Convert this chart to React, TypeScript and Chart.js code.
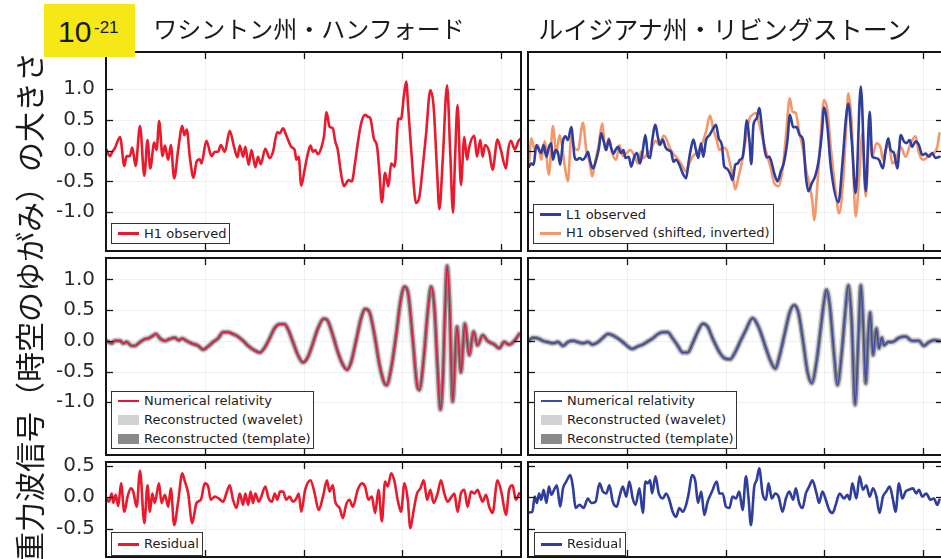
import React, { useEffect, useRef } from "react";
import { Chart, registerables } from "chart.js";
Chart.register(...registerables);

// ---- time axis (ms after reference) ----
const X_MIN = 250;
const X_MAX = 460;
const X_TICKS = [300, 350, 400, 450];
const Y_TICKS_BIG = [-1, -0.5, 0, 0.5, 1];
const Y_TICKS_RES = [-0.5, 0, 0.5];

// ---- Hanford: H1 observed ----
const H1_T = [250.3,252.0,253.2,254.5,257.1,259.3,260.4,262.1,263.3,265.0,267.2,269.4,271.0,272.4,274.4,275.6,276.9,278.6,279.8,281.5,282.8,284.5,286.5,288.6,289.6,290.9,292.4,294.3,295.8,297.5,298.3,300.8,303.4,305.1,306.7,308.1,310.1,312.6,314.8,316.5,317.7,319.4,320.5,322.2,323.6,325.6,326.9,328.3,330.6,332.8,334.5,336.7,337.9,339.6,341.2,343.8,345.5,346.3,347.5,348.8,350.5,352.2,353.5,354.7,355.9,357.2,358.9,360.3,361.6,363.1,364.8,366.0,367.3,369.0,370.4,371.5,372.7,374.4,376.1,377.4,379.1,381.1,382.5,383.8,385.5,387.2,388.4,389.6,391.2,392.9,394.3,396.0,398.0,399.3,400.7,401.9,403.0,404.7,406.9,408.6,410.3,412.0,414.1,415.8,417.5,418.7,420.4,422.6,424.2,425.6,426.6,427.9,429.6,431.3,432.7,433.8,436.4,437.7,439.4,440.6,441.8,443.9,445.6,448.1,449.8,452.4,453.5,454.9,456.9,458.6,460.0];
const H1_V = [0.01,-0.09,-0.02,0.04,0.22,-0.25,-0.09,-0.09,0.05,-0.25,0.40,-0.41,0.17,-0.29,0.13,0.01,0.48,-0.09,0.08,-0.15,0.09,-0.45,0.01,0.40,0.25,0.34,-0.10,-0.44,-0.18,-0.14,-0.21,0.16,-0.09,-0.02,-0.02,0.09,-0.02,0.32,0.06,-0.11,0.08,-0.10,0.06,-0.23,0.01,-0.27,-0.10,-0.22,0.03,-0.12,-0.02,0.30,0.28,0.36,0.25,0.06,0.01,-0.15,-0.10,-0.57,-0.31,-0.04,0.08,-0.02,0.01,-0.06,0.04,0.23,0.62,0.39,0.36,0.15,0.01,-0.39,-0.58,-0.53,-0.48,-0.50,-0.18,0.12,0.44,0.58,0.55,0.52,0.20,0.06,-0.37,-0.84,-0.36,-0.58,-0.21,-0.26,0.52,0.51,0.88,1.12,0.66,-0.10,-0.85,-0.75,-0.26,0.28,0.98,0.71,-0.31,-0.95,-0.15,1.06,-0.04,-1.01,-0.15,0.74,-0.56,0.22,-0.15,0.06,0.24,-0.10,0.17,-0.10,0.09,-0.02,-0.31,0.18,0.01,-0.29,0.01,0.16,0.02,0.15,0.20];

// ---- Livingston: L1 observed ----
const L1_T = [250.5,251.7,252.9,254.2,255.6,256.7,257.9,259.3,260.6,261.8,262.6,264.0,265.2,266.3,267.7,269.0,270.2,271.9,273.6,274.7,276.1,277.8,279.1,280.3,281.5,282.8,284.5,285.9,287.0,288.2,289.6,290.9,292.1,293.3,294.3,295.5,297.1,298.3,299.3,301.0,302.2,303.9,305.1,306.7,308.1,309.4,310.8,311.8,312.8,314.5,315.7,316.8,318.2,319.5,320.7,322.4,323.6,324.9,326.6,328.3,330.0,331.3,332.5,333.7,335.0,336.2,337.5,338.7,340.1,341.8,343.4,345.1,346.5,348.1,349.3,350.5,352.2,353.5,354.9,356.1,357.2,358.6,359.6,360.6,362.0,363.0,364.1,365.7,367.0,368.4,369.5,370.7,372.1,373.4,374.6,376.3,377.9,379.6,381.3,382.5,384.2,385.9,387.5,389.2,390.6,391.9,393.6,395.3,397.0,398.7,399.8,401.5,403.2,407.1,409.1,410.8,412.1,413.8,415.8,418.4,420.9,422.9,424.2,425.9,427.6,429.6,431.0,432.3,433.5,435.2,436.9,438.6,440.2,441.4,443.1,444.4,446.1,447.8,449.5,451.2,452.9,454.5,456.2,458.2];
const L1_V = [-0.26,-0.21,-0.23,0.09,0.01,-0.04,0.09,-0.10,0.06,0.12,-0.15,0.01,-0.04,-0.23,0.15,0.23,0.17,0.38,-0.11,-0.15,-0.12,-0.15,-0.10,-0.02,-0.18,-0.29,-0.15,0.04,0.28,0.16,0.01,0.18,0.04,-0.05,0.01,0.06,-0.04,0.01,-0.12,-0.10,-0.26,-0.09,-0.04,-0.21,0.01,0.25,-0.10,-0.12,0.15,0.42,0.22,0.09,0.18,0.06,0.01,-0.02,-0.18,-0.15,-0.23,-0.37,-0.45,-0.18,0.04,0.18,0.01,-0.12,0.12,-0.10,0.17,0.25,0.34,0.42,0.20,0.09,-0.26,-0.29,-0.37,-0.48,-0.23,-0.21,-0.15,-0.11,0.15,0.49,0.18,-0.22,0.42,0.52,0.69,0.36,0.06,-0.11,-0.10,-0.21,-0.37,-0.50,-0.34,-0.18,0.17,0.58,0.38,0.38,0.25,0.17,-0.42,-0.66,-0.53,-0.42,-0.18,0.28,0.70,0.39,-0.26,-0.84,-0.21,0.49,0.76,0.17,-0.69,1.04,-0.66,0.63,-0.10,-0.12,-0.15,-0.29,0.01,0.20,0.01,-0.04,-0.29,0.25,0.15,0.12,0.17,0.06,0.15,0.09,-0.07,-0.05,-0.10,-0.04,-0.12,-0.10];

// ---- H1 observed (shifted, inverted) ----
const H1S_T = [250.5,251.7,253.4,255.1,256.7,258.4,260.6,262.6,264.3,266.0,267.3,268.5,270.2,271.9,273.6,275.3,277.8,279.5,281.1,282.5,284.2,285.9,287.5,289.2,290.9,292.6,294.6,296.3,298.0,300.0,301.7,303.9,305.6,307.2,308.4,310.6,312.3,314.5,316.5,318.5,319.9,321.5,323.2,324.9,327.4,330.0,331.6,333.3,335.0,337.5,340.1,342.1,343.8,345.5,346.8,348.8,350.5,352.2,353.5,354.9,356.6,358.2,360.3,362.0,363.6,365.3,367.3,369.0,371.2,372.9,374.6,376.8,378.8,380.5,382.5,383.8,385.5,387.2,389.2,390.9,392.3,393.9,394.8,396.5,398.1,399.8,401.5,403.2,405.4,407.4,409.4,411.1,412.1,413.8,415.8,417.5,419.2,420.9,422.9,424.2,426.3,428.5,429.6,431.0,432.7,434.3,436.0,438.6,441.1,443.6,446.1,447.8,450.3,452.9,455.4,457.1,458.2];
const H1S_V = [-0.21,0.20,0.01,0.09,-0.15,0.15,-0.39,0.40,-0.04,0.25,0.06,-0.23,-0.50,0.23,0.04,0.01,0.45,0.01,-0.18,-0.42,-0.15,0.12,0.44,0.01,0.20,-0.04,-0.15,0.09,-0.09,-0.04,0.01,-0.09,-0.21,-0.02,-0.12,-0.04,0.01,0.16,0.09,0.24,0.20,0.06,-0.04,-0.10,-0.21,-0.34,-0.21,-0.10,-0.04,0.06,0.31,0.57,0.34,0.17,0.01,0.05,0.01,-0.21,-0.39,-0.63,-0.42,-0.19,0.20,0.51,0.58,0.61,0.39,0.17,-0.10,-0.29,-0.53,-0.58,-0.31,0.23,0.85,0.63,0.61,0.31,0.01,-0.34,-0.53,-0.83,-1.13,-0.53,0.23,0.82,0.66,0.06,-0.58,-1.02,-0.53,0.44,0.93,0.44,-1.07,-0.48,0.28,-0.75,0.34,-0.10,0.12,0.04,-0.15,0.01,0.12,-0.21,-0.15,0.06,-0.10,0.12,0.23,-0.04,-0.15,-0.07,-0.04,0.06,0.28];

// ---- Numerical relativity (Hanford) ----
const NRH_T = [250.3,252.9,254.5,257.1,258.8,260.4,263.0,264.6,267.2,269.7,271.4,273.1,275.3,277.3,279.8,282.3,284.8,286.9,288.6,290.7,293.3,296.6,299.2,301.7,304.2,306.7,309.3,311.8,314.3,316.8,319.4,321.9,324.9,327.8,330.3,332.8,335.4,337.9,340.4,342.1,344.6,347.1,349.7,352.2,354.7,357.2,360.3,362.3,364.8,367.3,369.9,372.1,374.1,376.6,379.1,381.1,383.3,385.9,388.4,390.9,392.1,394.3,396.8,399.0,401.0,403.0,405.2,407.4,408.6,410.8,412.8,414.5,416.2,417.8,419.2,420.4,421.5,422.6,423.9,425.4,427.6,429.6,431.6,433.8,436.0,438.0,440.6,443.1,446.5,449.0,451.5,454.0,456.9,459.1];
const NRH_V = [0.00,-0.04,0.00,0.00,-0.04,-0.02,-0.08,-0.08,-0.02,0.03,0.04,0.07,0.11,0.04,0.00,0.03,0.05,0.01,0.04,0.00,-0.04,-0.08,-0.14,-0.09,-0.02,0.04,0.14,0.14,0.11,0.07,0.00,-0.08,-0.15,-0.19,-0.11,0.04,0.21,0.27,0.27,0.19,-0.02,-0.23,-0.35,-0.26,-0.04,0.20,0.36,0.32,0.09,-0.18,-0.39,-0.47,-0.34,0.01,0.37,0.52,0.47,0.09,-0.39,-0.69,-0.72,-0.45,0.09,0.64,0.88,0.75,0.04,-0.72,-0.80,-0.28,0.47,0.88,0.53,-0.45,-1.12,-0.66,0.42,1.22,0.58,-0.99,0.23,-0.51,0.28,-0.23,0.15,-0.07,0.09,0.00,-0.06,-0.12,-0.02,-0.06,0.01,0.11];

// ---- Numerical relativity (Livingston) ----
const NRL_T = [250.5,252.5,255.1,257.6,260.1,262.6,265.2,267.7,270.2,272.7,275.3,277.8,280.3,282.8,285.4,287.9,290.4,292.9,295.5,298.0,300.5,302.7,305.6,308.1,310.6,313.1,315.7,318.2,320.7,323.2,325.8,328.3,330.8,333.3,335.9,338.4,340.9,343.4,346.8,349.3,352.2,354.9,357.7,360.3,363.6,367.0,370.4,372.9,375.1,377.4,380.1,382.5,384.7,386.9,389.2,391.4,393.6,396.0,398.1,399.8,401.0,402.7,404.9,406.6,408.8,410.4,412.1,413.8,415.5,417.2,418.4,419.7,420.9,422.2,423.1,424.6,426.3,427.6,429.0,430.1,432.3,434.3,437.7,441.1,444.4,447.8,450.3,452.9,455.4,458.2];
const NRL_V = [0.01,0.05,0.04,0.00,-0.02,-0.04,-0.02,-0.08,-0.02,0.00,-0.02,-0.04,-0.02,-0.06,-0.02,0.05,0.11,0.09,0.04,-0.02,-0.09,-0.13,-0.09,-0.06,-0.01,0.04,0.11,0.14,0.14,0.04,-0.08,-0.19,-0.19,-0.04,0.15,0.28,0.23,0.04,-0.18,-0.28,-0.30,-0.18,0.01,0.18,0.37,0.20,-0.12,-0.34,-0.45,-0.23,0.15,0.47,0.58,0.45,-0.01,-0.50,-0.69,-0.34,0.20,0.64,0.83,0.58,-0.23,-0.72,-0.18,0.42,0.90,0.31,-1.04,0.04,0.90,0.20,-0.69,0.12,0.46,-0.23,0.20,-0.12,0.05,-0.07,-0.02,-0.02,0.05,0.07,0.00,0.00,-0.08,-0.02,0.01,0.00];

// ---- Residuals ----
const RESH_T = [250.3,251.5,252.9,253.7,254.9,256.2,257.6,259.3,260.9,262.6,263.8,265.5,267.2,269.4,271.0,272.2,273.4,274.7,276.8,278.1,279.8,281.5,282.8,284.5,286.5,288.6,289.9,291.6,293.6,295.8,298.0,300.0,301.7,303.0,305.1,307.1,309.3,310.9,312.6,314.3,316.0,317.7,319.4,320.5,321.9,323.2,324.4,325.6,327.3,328.6,330.6,332.3,334.0,335.4,336.7,338.0,339.6,341.2,342.9,344.6,346.3,347.5,348.8,350.8,353.5,355.6,357.6,359.8,361.8,363.1,364.8,366.0,368.2,369.9,371.5,373.2,374.9,377.4,379.5,381.1,382.8,384.5,386.2,387.9,389.6,391.2,392.6,394.3,396.0,397.6,399.3,401.0,402.7,404.0,405.7,407.4,409.1,410.8,412.5,414.1,415.8,417.8,419.5,421.2,422.9,424.9,426.3,427.9,429.6,431.3,433.0,434.7,436.4,438.0,439.4,440.6,442.3,443.9,445.6,448.1,450.2,452.4,454.0,455.7,457.4,459.1];
const RESH_V = [-0.02,-0.07,0.06,-0.09,0.04,-0.14,0.22,-0.23,0.01,0.14,0.09,-0.15,0.42,-0.41,0.19,-0.23,0.06,-0.09,0.22,-0.09,0.04,-0.15,0.14,-0.44,-0.07,0.38,0.25,0.06,-0.41,-0.09,-0.04,0.22,0.17,-0.04,0.01,-0.02,-0.07,0.06,0.19,-0.04,-0.17,0.06,-0.12,0.06,-0.12,0.09,-0.09,0.06,-0.07,0.01,0.17,-0.02,-0.07,0.06,-0.04,0.09,0.09,-0.04,0.01,-0.07,-0.02,0.06,-0.23,0.12,0.27,0.06,-0.20,0.01,0.27,0.09,0.19,-0.07,-0.17,-0.33,-0.12,-0.04,-0.15,0.12,0.22,0.17,-0.04,0.01,-0.25,0.12,-0.38,0.25,0.17,0.38,0.25,-0.04,-0.23,0.22,-0.04,-0.49,-0.20,0.06,0.14,0.27,-0.04,0.12,-0.09,0.06,0.27,0.06,-0.07,0.01,0.06,-0.23,0.06,0.12,-0.15,0.09,0.06,0.12,0.01,-0.07,0.04,-0.15,-0.25,0.27,0.06,-0.28,0.12,0.19,-0.04,0.06];
const RESL_T = [250.5,252.2,253.4,254.5,255.6,256.7,257.9,259.3,260.6,261.8,263.5,264.6,266.3,267.7,269.4,271.4,272.7,274.1,276.1,278.1,280.3,282.0,284.2,286.2,287.9,289.6,291.2,292.9,294.9,296.3,298.0,299.7,301.3,303.0,304.4,306.4,308.1,309.4,310.6,311.8,312.8,314.5,316.2,318.2,319.9,321.5,323.2,324.9,326.6,328.3,330.0,331.3,333.0,334.7,336.0,337.7,339.2,340.9,343.1,345.5,346.8,348.5,350.2,351.9,353.5,355.2,356.9,358.6,360.3,361.6,362.8,364.5,365.7,367.0,368.7,370.4,371.7,373.4,375.1,376.8,378.8,380.5,382.2,384.2,385.5,387.2,388.9,390.6,392.3,393.9,396.0,397.3,399.0,400.7,402.4,404.1,405.7,407.7,409.9,411.6,412.8,414.1,416.2,417.8,419.5,421.2,422.9,424.6,426.3,427.9,429.6,431.3,433.0,434.7,436.0,437.7,439.4,441.1,442.8,444.8,446.5,447.8,449.5,451.5,453.7,455.4,457.1,458.2];
const RESL_V = [-0.24,-0.23,0.01,-0.09,0.06,-0.04,0.12,-0.09,0.17,0.04,0.14,0.19,-0.15,0.14,0.25,0.35,0.17,-0.17,-0.12,-0.17,-0.02,-0.09,-0.07,0.22,0.09,0.06,0.19,-0.07,-0.15,0.01,0.17,0.01,0.25,-0.02,-0.12,0.14,-0.25,0.25,0.22,0.27,0.06,0.33,0.06,-0.02,0.06,-0.04,-0.23,-0.31,-0.17,-0.23,-0.12,0.06,0.35,0.25,-0.09,0.09,-0.28,-0.07,0.09,0.25,0.06,0.06,-0.15,-0.17,0.01,-0.02,0.09,-0.20,0.33,-0.02,-0.44,0.17,0.27,0.46,0.06,-0.04,0.22,-0.02,0.06,0.01,-0.23,-0.02,0.09,-0.04,0.14,-0.09,-0.17,0.06,0.17,0.27,0.06,-0.09,0.09,-0.04,-0.20,-0.25,-0.12,0.06,-0.02,0.04,-0.04,0.22,-0.02,0.33,0.12,0.19,0.01,0.14,0.01,-0.25,0.01,0.09,0.17,-0.04,-0.23,0.22,-0.02,0.09,0.12,0.14,0.06,0.12,0.01,0.06,-0.04,-0.02,-0.12,-0.04];

// ---- text ----
const TITLE_LEFT = "ワシントン州・ハンフォード";
const TITLE_RIGHT = "ルイジアナ州・リビングストーン";
const Y_LABEL = "重力波信号（時空のゆがみ）の大きさ";

// ---- colours ----
const RED = "#ea1a2c";
const BLUE = "#2f3e9c";
const ORANGE = "#f4976a";
const NR_RED = "#e2173f";
const NR_BLUE = "#3e4aa3";
const WAVELET = "rgba(200,200,200,0.6)";
const TEMPLATE = "rgba(105,105,105,0.75)";
const LEGEND_WAVELET = "#d2d2d2";
const LEGEND_TEMPLATE = "#8a8a8a";
const TICK_FONT = '"DejaVu Sans", "Liberation Sans", sans-serif';
const JP_FONT = '"Noto Sans CJK JP", "Noto Sans", sans-serif';

const pts = (t: number[], v: number[]) =>
  t.slice(0, Math.min(t.length, v.length)).map((x, i) => ({ x, y: v[i] }));

const PAD = 16;
const LEFT_SPACE = 84;
const AXIS_W = 74;

function seg(ctx: CanvasRenderingContext2D, x1: number, y1: number, x2: number, y2: number) {
  ctx.beginPath();
  ctx.moveTo(x1, y1);
  ctx.lineTo(x2, y2);
  ctx.stroke();
}

const framePlugin = {
  id: "frame",
  beforeDatasetsDraw(chart: any, _a: any, opts: any) {
    const { ctx, chartArea: a, scales } = chart;
    ctx.save();
    ctx.strokeStyle = "rgba(0,0,0,0.06)";
    ctx.lineWidth = 1;
    for (const t of X_TICKS) {
      const x = Math.round(scales.x.getPixelForValue(t)) + 0.5;
      seg(ctx, x, a.top, x, a.bottom);
    }
    for (const t of opts.yTicks as number[]) {
      const y = Math.round(scales.y.getPixelForValue(t)) + 0.5;
      seg(ctx, a.left, y, a.right, y);
    }
    ctx.restore();
  },
  afterDatasetsDraw(chart: any, _a: any, opts: any) {
    const { ctx, chartArea: a, scales } = chart;
    ctx.save();
    ctx.strokeStyle = "#151515";
    ctx.lineWidth = 1.3;
    const L = 7;
    for (const t of X_TICKS) {
      const x = Math.round(scales.x.getPixelForValue(t)) + 0.5;
      seg(ctx, x, a.top, x, a.top + L);
      seg(ctx, x, a.bottom, x, a.bottom - L);
    }
    for (const t of opts.yTicks as number[]) {
      const y = Math.round(scales.y.getPixelForValue(t)) + 0.5;
      seg(ctx, a.left, y, a.left + L, y);
      seg(ctx, a.right, y, a.right - L, y);
    }
    ctx.lineWidth = 2;
    ctx.strokeRect(a.left, a.top, a.right - a.left, a.bottom - a.top);
    ctx.restore();
  },
};

type PanelProps = {
  left: number; top: number; width: number; height: number;
  yMin: number; yMax: number; yTicks: number[]; labels: boolean; datasets: any[];
};

function Panel({ left, top, width, height, yMin, yMax, yTicks, labels, datasets }: PanelProps) {
  const ref = useRef<HTMLCanvasElement>(null);
  const padL = labels ? LEFT_SPACE : PAD;
  const cw = width + padL + PAD;
  const ch = height + 2 * PAD;
  useEffect(() => {
    const chart = new Chart(ref.current as HTMLCanvasElement, {
      type: "line",
      data: { datasets },
      options: {
        responsive: false,
        animation: false,
        devicePixelRatio: 1,
        layout: { padding: { left: labels ? LEFT_SPACE - AXIS_W : PAD, right: PAD, top: PAD, bottom: PAD } },
        plugins: { legend: { display: false }, tooltip: { enabled: false }, frame: { yTicks } } as any,
        elements: { point: { radius: 0 } },
        scales: {
          x: { type: "linear", min: X_MIN, max: X_MAX, display: false },
          y: {
            type: "linear", min: yMin, max: yMax, display: labels,
            grid: { display: false, drawTicks: false },
            border: { display: false },
            afterBuildTicks: (s: any) => { s.ticks = yTicks.map((v) => ({ value: v })); },
            afterFit: (s: any) => {
              s.width = labels ? AXIS_W : 0;
              s.paddingTop = 0; s.paddingBottom = 0; s.paddingLeft = 0; s.paddingRight = 0;
            },
            ticks: {
              padding: 11, color: "#2b2b2b",
              font: { family: TICK_FONT, size: 20 },
              callback: (v: any) => Number(v).toFixed(1),
            },
          } as any,
        },
      },
      plugins: [framePlugin as any],
    });
    return () => chart.destroy();
  }, []);
  return (
    <canvas ref={ref} width={cw} height={ch}
      style={{ position: "absolute", left: left - padL, top: top - PAD, width: cw, height: ch }} />
  );
}

type LegendRow = { label: string; kind: "line" | "band"; color: string; thick: number };
function Legend({ left, top, width, height, rows }: { left: number; top: number; width: number; height: number; rows: LegendRow[] }) {
  const pitch = 18.7;
  const first = height / 2 - ((rows.length - 1) * pitch) / 2;
  return (
    <div style={{ position: "absolute", left, top, width, height, boxSizing: "border-box", border: "1px solid #333", background: "#fff" }}>
      {rows.map((r, i) => {
        const cy = first + i * pitch - 1;
        return (
          <React.Fragment key={i}>
            <div style={{ position: "absolute", left: 6, width: 21, top: cy - r.thick / 2, height: r.thick, background: r.color }} />
            <div style={{ position: "absolute", left: 32, top: cy - 8, height: 16, lineHeight: "16px", fontSize: 13, fontFamily: TICK_FONT, color: "#222", whiteSpace: "nowrap" }}>{r.label}</div>
          </React.Fragment>
        );
      })}
    </div>
  );
}

const line = (data: any[], color: string, width: number) => ({
  data, borderColor: color, borderWidth: width, pointRadius: 0, fill: false,
  cubicInterpolationMode: "monotone", borderJoinStyle: "round", borderCapStyle: "round",
});

const COL_L = 106;
const COL_R = 528;
const COL_W = 415;
const ROWS = [
  { top: 52, height: 199, yMin: -1.63, yMax: 1.6, ticks: Y_TICKS_BIG },
  { top: 258, height: 197, yMin: -1.86, yMax: 1.35, ticks: Y_TICKS_BIG },
  { top: 462, height: 95, yMin: -0.945, yMax: 0.558, ticks: Y_TICKS_RES },
];

export default function App() {
  const nrH = pts(NRH_T, NRH_V);
  const nrL = pts(NRL_T, NRL_V);
  return (
    <div style={{ position: "absolute", left: 0, top: 0, width: 941, height: 559, overflow: "hidden", background: "#fff" }}>
      {/* row 1 */}
      <Panel left={COL_L} top={ROWS[0].top} width={COL_W} height={ROWS[0].height} yMin={ROWS[0].yMin} yMax={ROWS[0].yMax} yTicks={ROWS[0].ticks} labels={true}
        datasets={[line(pts(H1_T, H1_V), RED, 2.6)]} />
      <Panel left={COL_R} top={ROWS[0].top} width={COL_W} height={ROWS[0].height} yMin={ROWS[0].yMin} yMax={ROWS[0].yMax} yTicks={ROWS[0].ticks} labels={false}
        datasets={[line(pts(L1_T, L1_V), BLUE, 2.6), line(pts(H1S_T, H1S_V), ORANGE, 2.6)]} />
      {/* row 2 */}
      <Panel left={COL_L} top={ROWS[1].top} width={COL_W} height={ROWS[1].height} yMin={ROWS[1].yMin} yMax={ROWS[1].yMax} yTicks={ROWS[1].ticks} labels={true}
        datasets={[line(nrH, NR_RED, 1.5), line(nrH, TEMPLATE, 4), line(nrH, WAVELET, 7)]} />
      <Panel left={COL_R} top={ROWS[1].top} width={COL_W} height={ROWS[1].height} yMin={ROWS[1].yMin} yMax={ROWS[1].yMax} yTicks={ROWS[1].ticks} labels={false}
        datasets={[line(nrL, NR_BLUE, 1.5), line(nrL, TEMPLATE, 4), line(nrL, WAVELET, 7)]} />
      {/* row 3 */}
      <Panel left={COL_L} top={ROWS[2].top} width={COL_W} height={ROWS[2].height} yMin={ROWS[2].yMin} yMax={ROWS[2].yMax} yTicks={ROWS[2].ticks} labels={true}
        datasets={[line(pts(RESH_T, RESH_V), RED, 2.6)]} />
      <Panel left={COL_R} top={ROWS[2].top} width={COL_W} height={ROWS[2].height} yMin={ROWS[2].yMin} yMax={ROWS[2].yMax} yTicks={ROWS[2].ticks} labels={false}
        datasets={[line(pts(RESL_T, RESL_V), BLUE, 2.6)]} />

      {/* legends */}
      <Legend left={111} top={223} width={119} height={21} rows={[{ label: "H1 observed", kind: "line", color: RED, thick: 3 }]} />
      <Legend left={533} top={204} width={241} height={40} rows={[
        { label: "L1 observed", kind: "line", color: BLUE, thick: 3 },
        { label: "H1 observed (shifted, inverted)", kind: "line", color: ORANGE, thick: 3 },
      ]} />
      <Legend left={111} top={391} width={203} height={58} rows={[
        { label: "Numerical relativity", kind: "line", color: NR_RED, thick: 2 },
        { label: "Reconstructed (wavelet)", kind: "band", color: LEGEND_WAVELET, thick: 10 },
        { label: "Reconstructed (template)", kind: "band", color: LEGEND_TEMPLATE, thick: 10 },
      ]} />
      <Legend left={534} top={391} width={203} height={58} rows={[
        { label: "Numerical relativity", kind: "line", color: NR_BLUE, thick: 2 },
        { label: "Reconstructed (wavelet)", kind: "band", color: LEGEND_WAVELET, thick: 10 },
        { label: "Reconstructed (template)", kind: "band", color: LEGEND_TEMPLATE, thick: 10 },
      ]} />
      <Legend left={111} top={532} width={92} height={24} rows={[{ label: "Residual", kind: "line", color: RED, thick: 3 }]} />
      <Legend left={534} top={532} width={92} height={24} rows={[{ label: "Residual", kind: "line", color: BLUE, thick: 3 }]} />

      {/* titles */}
      <div style={{ position: "absolute", left: 309, top: 28, transform: "translate(-50%,-50%)", fontFamily: JP_FONT, fontSize: 24, lineHeight: 1, color: "#1a1a1a", whiteSpace: "nowrap" }}>{TITLE_LEFT}</div>
      <div style={{ position: "absolute", left: 725, top: 28, transform: "translate(-50%,-50%)", fontFamily: JP_FONT, fontSize: 25, lineHeight: 1, color: "#1a1a1a", whiteSpace: "nowrap" }}>{TITLE_RIGHT}</div>

      {/* exponent box */}
      <div style={{ position: "absolute", left: 44, top: 4, width: 91, height: 53, background: "#f6e716" }}>
        <span style={{ position: "absolute", left: 14, top: 12.6, fontFamily: '"Liberation Sans", Arial, sans-serif', fontSize: 30, lineHeight: 1, color: "#1a1a1a" }}>10</span>
        <span style={{ position: "absolute", left: 50, top: 14.6, fontFamily: '"Liberation Sans", Arial, sans-serif', fontSize: 17, lineHeight: 1, color: "#1a1a1a" }}>-21</span>
      </div>

      {/* y label */}
      <div style={{ position: "absolute", left: 28, top: 307, transform: "translate(-50%,-50%) rotate(-90deg)", fontFamily: JP_FONT, fontSize: 30, lineHeight: 1, color: "#1a1a1a", whiteSpace: "nowrap" }}>{Y_LABEL}</div>
    </div>
  );
}
